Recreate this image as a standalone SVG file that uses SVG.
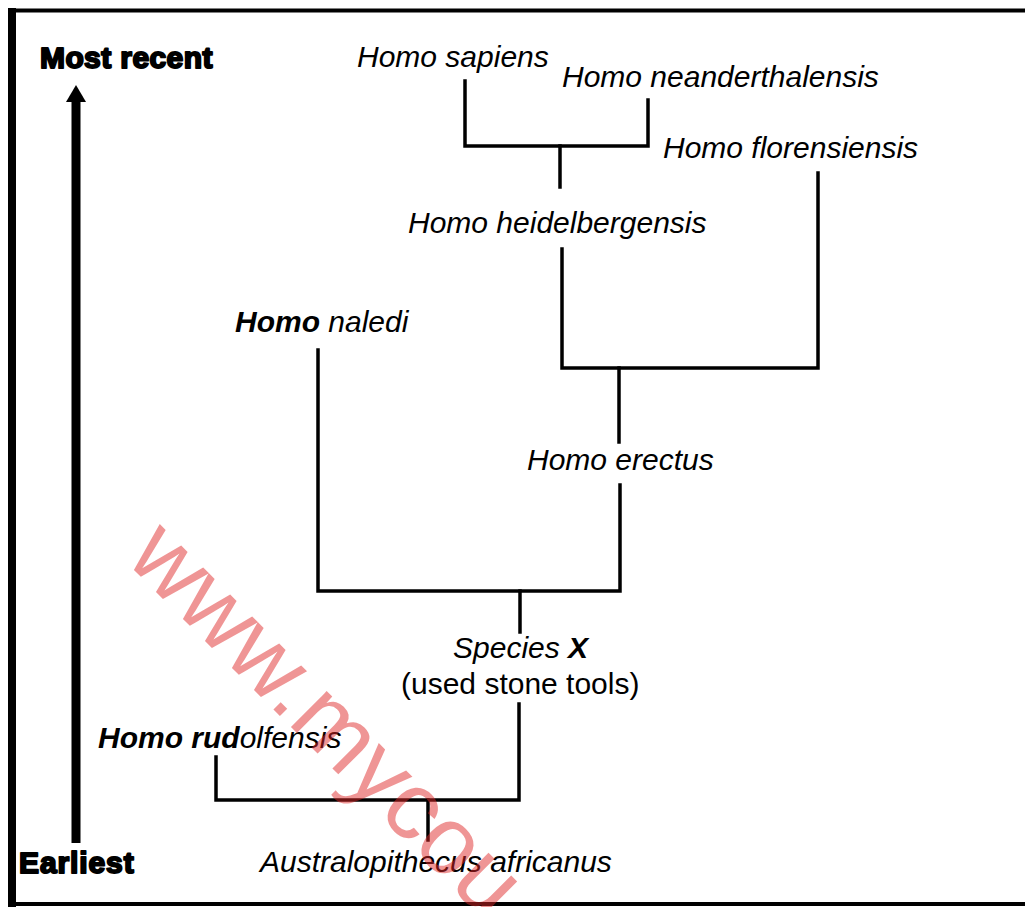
<svg xmlns="http://www.w3.org/2000/svg" width="1025" height="907" viewBox="0 0 1025 907">
  <style>
    .lbl { font-family: "Liberation Sans", Arial, Helvetica, sans-serif; font-size: 30px; fill: #000; }
    .it { font-style: italic; }
    .b { font-weight: bold; }
    .axis { font-family: "Liberation Sans", Arial, Helvetica, sans-serif; font-size: 30px; font-weight: bold; fill: #000; stroke: #000; stroke-width: 2; stroke-linejoin: round; }
    .edge { fill: none; stroke: #000; stroke-width: 3.5; stroke-linecap: square; stroke-linejoin: miter; }
    .frame { fill: none; stroke: #000; }
    .wm { font-family: "Liberation Sans", Arial, Helvetica, sans-serif; font-size: 96px; fill: #e02828; opacity: 0.49; }
  </style>
  <rect x="0" y="0" width="1025" height="907" fill="#fff"/>

  <g id="frame">
    <line class="frame" x1="8" y1="10.5" x2="1025" y2="10.5" stroke-width="4"/>
    <line class="frame" x1="12" y1="8" x2="12" y2="907" stroke-width="8"/>
    <line class="frame" x1="8" y1="904" x2="1025" y2="904" stroke-width="4"/>
  </g>

  <g id="time-axis">
    <rect x="71.5" y="98" width="9" height="745" fill="#000"/>
    <polygon points="76,85 66,102 86,102" fill="#000"/>
    <text class="axis" x="40" y="68" letter-spacing="0.4">Most recent</text>
    <text class="axis" x="19" y="873" letter-spacing="0.9">Earliest</text>
  </g>

  <g id="connectors">
    <polyline class="edge" points="465,81 465,146 648,146 648,100"/>
    <line class="edge" x1="560" y1="146" x2="560" y2="187"/>
    <polyline class="edge" points="562,249 562,368 818,368 818,173"/>
    <line class="edge" x1="619" y1="368" x2="619" y2="442"/>
    <polyline class="edge" points="318,350 318,591 620,591 620,485"/>
    <line class="edge" x1="520" y1="591" x2="520" y2="632"/>
    <polyline class="edge" points="216,757 216,800 519,800 519,704"/>
    <line class="edge" x1="428" y1="800" x2="428" y2="840"/>
  </g>

  <g id="node-sapiens"><text class="lbl it" x="357" y="67">Homo sapiens</text></g>
  <g id="node-neanderthalensis"><text class="lbl it" x="562" y="87">Homo neanderthalensis</text></g>
  <g id="node-florensiensis"><text class="lbl it" x="663" y="158">Homo florensiensis</text></g>
  <g id="node-heidelbergensis"><text class="lbl it" x="408" y="233">Homo heidelbergensis</text></g>
  <g id="node-naledi"><text class="lbl it" x="235" y="332"><tspan class="b">Homo</tspan> naledi</text></g>
  <g id="node-erectus"><text class="lbl it" x="527" y="470">Homo erectus</text></g>
  <g id="node-species-x">
    <text class="lbl it" x="453" y="658">Species <tspan class="b">X</tspan></text>
    <text class="lbl" x="401" y="694">(used stone tools)</text>
  </g>
  <g id="node-rudolfensis"><text class="lbl it" x="98" y="748"><tspan class="b">Homo rud</tspan>olfensis</text></g>
  <g id="node-africanus"><text class="lbl it" x="260" y="872">Australopithecus africanus</text></g>

  <g id="watermark">
    <text class="wm" x="124" y="560" transform="rotate(45 124 560)">www.mycou</text>
  </g>
</svg>
